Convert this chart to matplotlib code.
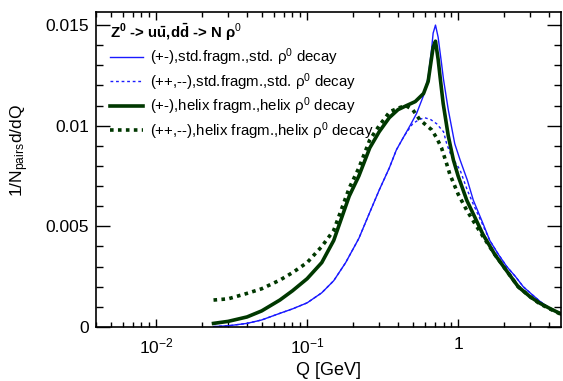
import matplotlib.pyplot as plt
from matplotlib.ticker import FixedLocator, LogLocator, NullFormatter, MultipleLocator

plt.rcParams['font.family'] = ['Liberation Sans', 'DejaVu Sans']
plt.rcParams['mathtext.fontset'] = 'custom'
plt.rcParams['mathtext.rm'] = 'Liberation Sans'
plt.rcParams['mathtext.it'] = 'Liberation Sans:italic'
plt.rcParams['mathtext.bf'] = 'Liberation Sans:bold'

# std. fragmentation, std. rho0 decay, opposite-charge pairs (+-)
q_std_os = [0.024, 0.03, 0.04, 0.05, 0.066, 0.08, 0.1, 0.125, 0.15, 0.18, 0.22, 0.26,
            0.30, 0.35, 0.39, 0.44, 0.48, 0.53, 0.59, 0.633, 0.667, 0.683, 0.708, 0.737,
            0.776, 0.80, 0.86, 0.95, 1.03, 1.15, 1.26, 1.45, 1.62, 1.85, 2.1, 2.4, 2.7,
            3.1, 3.5, 4.1, 4.8]
y_std_os = [0.00002, 0.00006, 0.00018, 0.00035, 0.00068, 0.0009, 0.0012, 0.0017, 0.0023,
            0.0032, 0.0044, 0.0057, 0.0068, 0.0079, 0.0088, 0.0095, 0.0100, 0.0106, 0.0115,
            0.0124, 0.0138, 0.0146, 0.0150, 0.0144, 0.0131, 0.0123, 0.0108, 0.0091, 0.0083,
            0.0073, 0.0063, 0.0052, 0.0043, 0.0036, 0.0030, 0.0025, 0.0020, 0.0016, 0.00126,
            0.0009, 0.00068]

# std. fragmentation, std. rho0 decay, like-charge pairs (++,--)
q_std_ls = [0.024, 0.03, 0.04, 0.05, 0.066, 0.08, 0.1, 0.125, 0.15, 0.18, 0.22, 0.26,
            0.30, 0.35, 0.39, 0.44, 0.50, 0.55, 0.60, 0.66, 0.72, 0.80, 0.84, 0.90, 1.03,
            1.15, 1.26, 1.45, 1.62, 1.85, 2.1, 2.4, 2.7, 3.1, 3.5, 4.1, 4.8]
y_std_ls = [0.00002, 0.00006, 0.00018, 0.00035, 0.00068, 0.0009, 0.0012, 0.0017, 0.0023,
            0.0032, 0.0044, 0.0057, 0.0068, 0.0079, 0.0088, 0.0095, 0.0101, 0.0103, 0.0104,
            0.0103, 0.0101, 0.0097, 0.0091, 0.0085, 0.0078, 0.0068, 0.0061, 0.0051, 0.0043,
            0.0036, 0.0030, 0.0025, 0.0020, 0.0016, 0.00126, 0.0009, 0.00068]

# helix fragmentation, helix rho0 decay, opposite-charge pairs (+-)
q_hel_os = [0.024, 0.03, 0.04, 0.05, 0.066, 0.08, 0.1, 0.125, 0.15, 0.19, 0.22, 0.26,
            0.30, 0.35, 0.40, 0.455, 0.52, 0.59, 0.633, 0.65, 0.683, 0.708, 0.737, 0.76,
            0.796, 0.86, 0.90, 0.93, 1.0, 1.14, 1.3, 1.46, 1.75, 2.09, 2.5, 3.0, 3.48,
            4.1, 4.8]
y_hel_os = [0.00018, 0.00028, 0.0005, 0.0008, 0.00134, 0.0018, 0.0024, 0.0032, 0.0043,
            0.0065, 0.0075, 0.0089, 0.0097, 0.0104, 0.0108, 0.0110, 0.0112, 0.0116, 0.0122,
            0.0128, 0.0139, 0.0142, 0.0133, 0.0124, 0.0111, 0.0095, 0.0088, 0.0083, 0.0075,
            0.0063, 0.0054, 0.0046, 0.0036, 0.0028, 0.0020, 0.0015, 0.00118, 0.0009,
            0.00065]

# helix fragmentation, helix rho0 decay, like-charge pairs (++,--)
q_hel_ls = [0.024, 0.03, 0.04, 0.05, 0.066, 0.08, 0.1, 0.125, 0.15, 0.19, 0.22, 0.26,
            0.30, 0.353, 0.41, 0.45, 0.50, 0.557, 0.62, 0.667, 0.72, 0.776, 0.84, 0.88,
            1.0, 1.14, 1.3, 1.46, 1.75, 2.09, 2.5, 3.0, 3.48, 4.1, 4.8]
y_hel_ls = [0.00134, 0.0014, 0.00167, 0.0019, 0.00233, 0.0027, 0.0032, 0.0040, 0.0048,
            0.0069, 0.0079, 0.0093, 0.0100, 0.0107, 0.0109, 0.0110, 0.0108, 0.0103, 0.0100,
            0.0098, 0.0094, 0.0089, 0.0081, 0.0076, 0.0066, 0.0058, 0.0051, 0.0045, 0.0036,
            0.0028, 0.0020, 0.0015, 0.00115, 0.00088, 0.00063]

blue = '#1a1aff'
green = '#003800'

fig = plt.figure(figsize=(5.63, 3.81), dpi=100)
ax = fig.add_axes([0.1705, 0.1417, 0.826, 0.8268])

ax.plot(q_std_os, y_std_os, color=blue, lw=1.0,
        label='(+-),std.fragm.,std. ρ$^{0}$ decay')
ax.plot(q_std_ls, y_std_ls, color=blue, lw=1.0, ls=(0, (2, 2)),
        label='(++,--),std.fragm.,std. ρ$^{0}$ decay')
ax.plot(q_hel_os, y_hel_os, color=green, lw=2.6,
        label='(+-),helix fragm.,helix ρ$^{0}$ decay')
ax.plot(q_hel_ls, y_hel_ls, color=green, lw=2.6, ls=(0, (1, 1.2)),
        label='(++,--),helix fragm.,helix ρ$^{0}$ decay')

ax.set_xscale('log')
ax.set_xlim(0.004, 4.8)
ax.set_ylim(0, 0.01565)

ax.xaxis.set_major_locator(FixedLocator([0.01, 0.1, 1]))
ax.set_xticklabels([r'$10^{-2}$', r'$10^{-1}$', '1'])
ax.xaxis.set_minor_locator(LogLocator(base=10, subs=range(2, 10)))
ax.xaxis.set_minor_formatter(NullFormatter())
ax.yaxis.set_major_locator(FixedLocator([0, 0.005, 0.01, 0.015]))
ax.set_yticklabels(['0', '0.005', '0.01', '0.015'])
ax.yaxis.set_minor_locator(MultipleLocator(0.001))

ax.tick_params(which='both', direction='in', top=True, right=True, labelsize=12.5)
ax.tick_params(axis='y', which='major', length=10, width=1, pad=5)
ax.tick_params(axis='y', which='minor', length=5, width=1)
ax.tick_params(axis='x', which='major', length=6, width=1, pad=7)
ax.tick_params(axis='x', which='minor', length=3.5, width=1)
for s in ax.spines.values():
    s.set_linewidth(1.2)

ax.set_xlabel('Q [GeV]', fontsize=13, labelpad=4)
ax.set_ylabel(r'1/N$_{\mathrm{pairs}}$d/dQ', fontsize=12.5)
ax.yaxis.set_label_coords(-0.14, 0.56)

leg = ax.legend(loc='upper left', bbox_to_anchor=(0.03, 0.968), frameon=False,
                fontsize=10.8, handlelength=2.2, handletextpad=0.5, labelspacing=0.2,
                borderaxespad=0, borderpad=0,
                title=r'$\mathbf{Z^{0}}$ -> $\mathbf{u\bar{u}}$,$\mathbf{d\bar{d}}$ -> N ρ$^{0}$',
                title_fontproperties={'weight': 'bold', 'size': 10.8},
                alignment='left')

fig.savefig('out.png', dpi=100)
